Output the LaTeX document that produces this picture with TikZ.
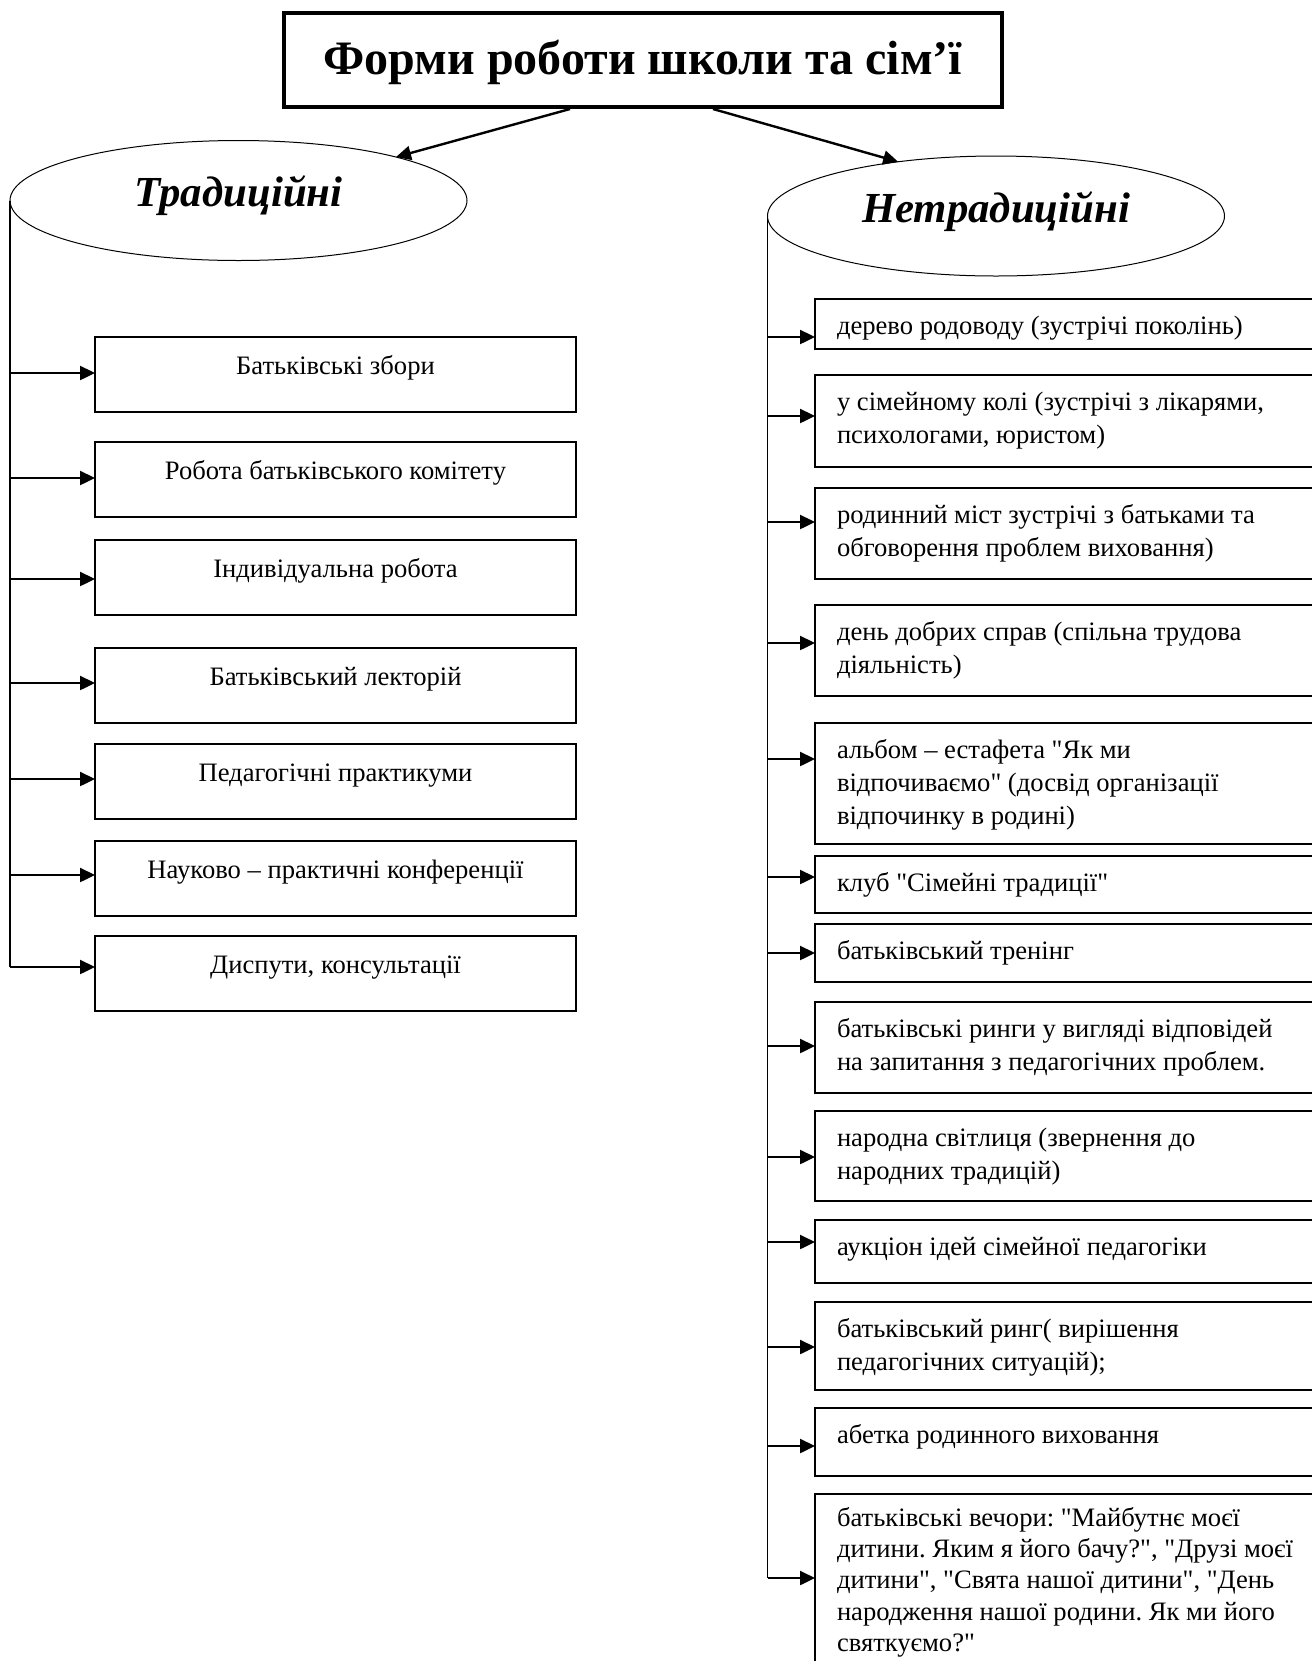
\documentclass[tikz,border=0pt]{standalone}
\usepackage{fontspec}
\setmainfont{Liberation Serif}[Ligatures=TeXOff]
\usetikzlibrary{shapes.geometric,arrows.meta,calc}
\frenchspacing
\begin{document}
\begin{tikzpicture}[x=0.5pt,y=-0.5pt,
  every node/.style={outer sep=0pt},
  titlebox/.style={draw,line width=2pt,minimum width=359pt,minimum height=47pt,inner sep=0pt,text height=20pt,font=\fontsize{24}{28}\selectfont\bfseries},
  ell/.style={ellipse,draw,line width=0.5pt,minimum width=228.5pt,minimum height=60pt,inner sep=0pt,text depth=9pt,font=\fontsize{21.4}{25}\selectfont\bfseries\itshape},
  lb/.style={draw,line width=0.75pt,minimum width=240.5pt,minimum height=37.5pt,inner sep=0pt,anchor=north west},
  rb/.style={draw,line width=0.75pt,minimum width=257.5pt,inner sep=0pt,anchor=north west},
  lt/.style={anchor=base,inner sep=0pt,font=\fontsize{13.3}{16.4}\selectfont},
  rt/.style={anchor=north west,inner sep=0pt,align=left,font=\fontsize{13.3}{16.4}\selectfont},
  arr/.style={line width=1.2pt,-{Triangle[length=7.5pt,width=7pt]}},
  trunk/.style={line width=0.9pt}]
\fill[white] (0,0) rectangle (1312,1661);
\useasboundingbox (0,0) rectangle (1312,1661);
\clip (0,0) rectangle (1312,1661);

% title and categories
\node[titlebox] (title) at (643,60) {Форми роботи школи та сім’ї};
\node[ell] (trad) at (238.5,200.5) {Традиційні};
\node[ell] (netrad) at (996,216) {Нетрадиційні};
\coordinate (ts1) at (570,109);
\coordinate (ts2) at (713,109);
\draw[arr] (ts1) -- (trad);
\draw[arr] (ts2) -- (netrad.151);

% left column
\node[lb] (b1) at (95,337) {};
\node[lb] (b2) at (95,442) {};
\node[lb] (b3) at (95,540) {};
\node[lb] (b4) at (95,648) {};
\node[lb] (b5) at (95,744) {};
\node[lb] (b6) at (95,841) {};
\node[lb] (b7) at (95,936) {};
\node[lt] (tb1) at ([shift={(0,37)}]b1.north) {Батьківські збори};
\node[lt] (tb2) at ([shift={(0,37)}]b2.north) {Робота батьківського комітету};
\node[lt] (tb3) at ([shift={(0,37)}]b3.north) {Індивідуальна робота};
\node[lt] (tb4) at ([shift={(0,37)}]b4.north) {Батьківський лекторій};
\node[lt] (tb5) at ([shift={(0,37)}]b5.north) {Педагогічні практикуми};
\node[lt] (tb6) at ([shift={(0,37)}]b6.north) {Науково – практичні конференції};
\node[lt] (tb7) at ([shift={(0,37)}]b7.north) {Диспути, консультації};
\coordinate (la1) at (10,373);
\coordinate (la2) at (10,478);
\coordinate (la3) at (10,579);
\coordinate (la4) at (10,683);
\coordinate (la5) at (10,779);
\coordinate (la6) at (10,875);
\coordinate (la7) at (10,967);
\draw[trunk] (trad.west) -- (la7);
\foreach \i in {1,...,7} {\draw[arr] (la\i) -- (la\i -| b\i.west);}

% right column
\node[rb,minimum height=25pt] (r1) at (815,299) {};
\node[rb,minimum height=46pt] (r2) at (815,375) {};
\node[rb,minimum height=45.5pt] (r3) at (815,488) {};
\node[rb,minimum height=45.5pt] (r4) at (815,605) {};
\node[rb,minimum height=60.5pt] (r5) at (815,723) {};
\node[rb,minimum height=28.5pt] (r6) at (815,856) {};
\node[rb,minimum height=29pt] (r7) at (815,924) {};
\node[rb,minimum height=45.5pt] (r8) at (815,1002) {};
\node[rb,minimum height=45pt] (r9) at (815,1111) {};
\node[rb,minimum height=31.5pt] (r10) at (815,1220) {};
\node[rb,minimum height=44pt] (r11) at (815,1302) {};
\node[rb,minimum height=34pt] (r12) at (815,1408) {};
\node[rb,minimum height=100pt] (r13) at (815,1494) {};
\node[rt] (tr1) at ([shift={(22,13)}]r1.north west) {\strut дерево родоводу (зустрічі поколінь)};
\node[rt] (tr2) at ([shift={(22,13)}]r2.north west) {\strut у сімейному колі (зустрічі з лікарями,\\психологами, юристом)};
\node[rt] (tr3) at ([shift={(22,13)}]r3.north west) {\strut родинний міст зустрічі з батьками та\\обговорення проблем виховання)};
\node[rt] (tr4) at ([shift={(22,13)}]r4.north west) {\strut день добрих справ (спільна трудова\\діяльність)};
\node[rt] (tr5) at ([shift={(22,13)}]r5.north west) {\strut альбом – естафета "Як ми\\відпочиваємо" (досвід організації\\відпочинку в родині)};
\node[rt] (tr6) at ([shift={(22,13)}]r6.north west) {\strut клуб "Сімейні традиції"};
\node[rt] (tr7) at ([shift={(22,13)}]r7.north west) {\strut батьківський тренінг};
\node[rt] (tr8) at ([shift={(22,13)}]r8.north west) {\strut батьківські ринги у вигляді відповідей\\на запитання з педагогічних проблем.};
\node[rt] (tr9) at ([shift={(22,13)}]r9.north west) {\strut народна світлиця (звернення до\\народних традицій)};
\node[rt] (tr10) at ([shift={(22,13)}]r10.north west) {\strut аукціон ідей сімейної педагогіки};
\node[rt] (tr11) at ([shift={(22,13)}]r11.north west) {\strut батьківський ринг( вирішення\\педагогічних ситуацій);};
\node[rt] (tr12) at ([shift={(22,13)}]r12.north west) {\strut абетка родинного виховання};
\node[rt,font=\fontsize{13.3}{15.7}\selectfont] (tr13) at ([shift={(22,10)}]r13.north west) {\strut батьківські вечори: "Майбутнє моєї\\дитини. Яким я його бачу?", "Друзі моєї\\дитини", "Свята нашої дитини", "День\\народження нашої родини. Як ми його\\святкуємо?"};
\coordinate (ra1) at (767.5,337);
\coordinate (ra2) at (767.5,416);
\coordinate (ra3) at (767.5,522);
\coordinate (ra4) at (767.5,643);
\coordinate (ra5) at (767.5,759);
\coordinate (ra6) at (767.5,877);
\coordinate (ra7) at (767.5,953);
\coordinate (ra8) at (767.5,1046);
\coordinate (ra9) at (767.5,1157);
\coordinate (ra10) at (767.5,1242);
\coordinate (ra11) at (767.5,1347);
\coordinate (ra12) at (767.5,1446);
\coordinate (ra13) at (767.5,1578);
\draw[trunk] (netrad.west) -- (ra13);
\foreach \i in {1,...,13} {\draw[arr] (ra\i) -- (ra\i -| r\i.west);}
\end{tikzpicture}
\end{document}
